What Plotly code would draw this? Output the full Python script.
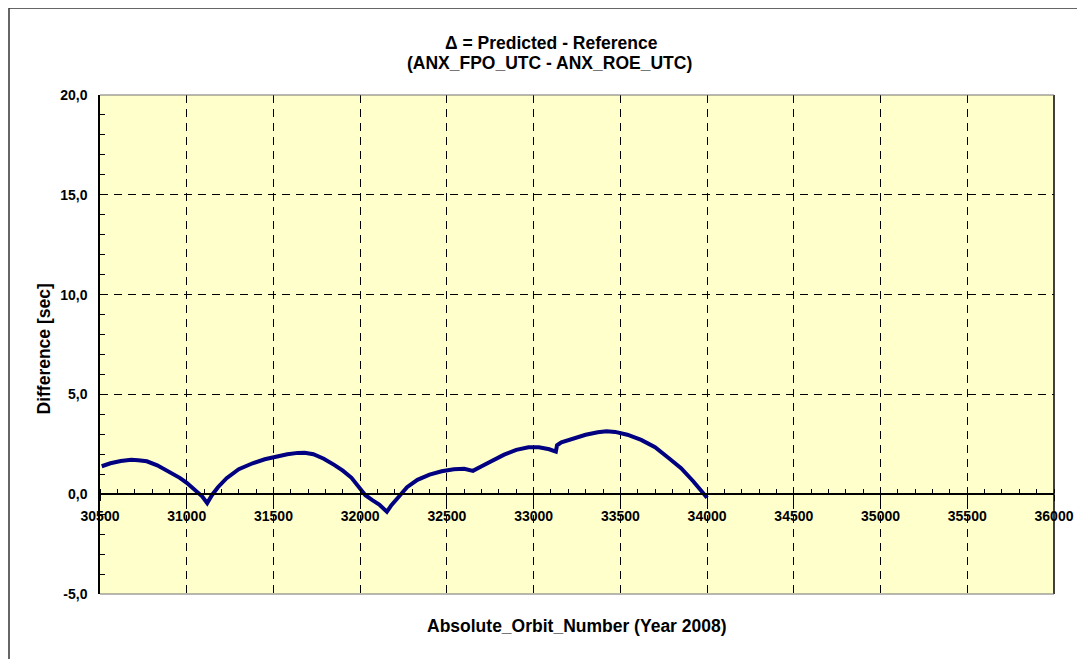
import plotly.graph_objects as go

# ---- data ----
orbit = [30510, 30560, 30620, 30680, 30720, 30770, 30830, 30900, 30960, 31000,
         31050, 31090, 31118, 31145, 31180, 31230, 31300, 31380, 31450, 31520,
         31580, 31640, 31680, 31730, 31790, 31850, 31900, 31950, 31990, 32030,
         32070, 32110, 32154, 32180, 32220, 32270, 32330, 32400, 32470, 32540,
         32600, 32650, 32700, 32760, 32830, 32900, 32970, 33030, 33090, 33128,
         33135, 33160, 33220, 33300, 33370, 33420, 33470, 33540, 33620, 33700,
         33780, 33850, 33920, 33970, 34000]
difference = [1.40, 1.55, 1.66, 1.72, 1.70, 1.65, 1.45, 1.12, 0.82, 0.57,
              0.22, -0.12, -0.45, -0.05, 0.35, 0.80, 1.25, 1.55, 1.75, 1.90,
              2.00, 2.07, 2.08, 2.00, 1.78, 1.47, 1.18, 0.82, 0.40, -0.05,
              -0.30, -0.52, -0.88, -0.55, -0.15, 0.35, 0.72, 0.98, 1.15, 1.25,
              1.27, 1.17, 1.40, 1.68, 1.98, 2.22, 2.35, 2.35, 2.25, 2.13,
              2.45, 2.60, 2.78, 2.98, 3.10, 3.15, 3.12, 2.98, 2.72, 2.35,
              1.80, 1.30, 0.65, 0.15, -0.18]

x_tickvals = [30500, 31000, 31500, 32000, 32500, 33000, 33500, 34000, 34500, 35000, 35500, 36000]
x_ticktext = ["30500", "31000", "31500", "32000", "32500", "33000", "33500",
              "34000", "34500", "35000", "35500", "36000"]
y_tickvals = [-5, 0, 5, 10, 15, 20]
y_ticktext = ["-5,0", "0,0", "5,0", "10,0", "15,0", "20,0"]

title_line1 = "\u0394 = Predicted - Reference"
title_line2 = "(ANX_FPO_UTC - ANX_ROE_UTC)"
x_title = "Absolute_Orbit_Number (Year 2008)"
y_title = "Difference [sec]"

FONT = "Arial, Liberation Sans, sans-serif"
OFF = 8                      # page body margin of the browser
W, H = 1085 - OFF, 659 - OFF
# plot area in window pixels: x 100..1054, y 95..594
L, T = 100 - OFF, 95 - OFF
R, B = W - (1054 - OFF), H - (594 - OFF)
pw, ph = W - L - R, H - T - B


def px_x(p):  # window pixel -> paper x
    return (p - OFF - L) / pw


def px_y(p):  # window pixel -> paper y
    return (H - B - (p - OFF)) / ph


fig = go.Figure()
fig.add_trace(go.Scatter(
    x=orbit, y=difference, mode="lines",
    line=dict(color="#000080", width=4),
    showlegend=False, hoverinfo="skip"))

fig.update_layout(
    width=W, height=H,
    margin=dict(l=L, r=R, t=T, b=B),
    paper_bgcolor="white",
    plot_bgcolor="#FFFFCC",
    font=dict(family=FONT, color="black", size=14),
    showlegend=False,
)

tick_font = dict(family=FONT, size=14, color="black", weight="bold")

fig.update_xaxes(
    range=[30500, 36000],
    anchor="free", position=0.2,
    tickmode="array", tickvals=x_tickvals, ticktext=x_ticktext,
    tickfont=tick_font,
    showline=True, linecolor="black", linewidth=1.5,
    ticks="outside", ticklen=6, tickcolor="black", tickwidth=1,
    minor=dict(tickmode="linear", tick0=30500, dtick=100, ticks="inside",
               ticklen=4, tickcolor="black", showgrid=False),
    showgrid=True, gridcolor="black", gridwidth=1, griddash="8px,6px",
    zeroline=False,
    ticklabelstandoff=3,
)

fig.update_yaxes(
    range=[-5, 20],
    tickmode="array", tickvals=y_tickvals, ticktext=y_ticktext,
    tickfont=tick_font,
    showline=True, linecolor="black", linewidth=1.5,
    ticks="inside", ticklen=5, tickcolor="black",
    minor=dict(tickmode="linear", tick0=-5, dtick=1, ticks="inside",
               ticklen=5, tickcolor="black", showgrid=False),
    showgrid=True, gridcolor="black", gridwidth=1, griddash="8px,6px",
    zeroline=False,
    ticklabelstandoff=8,
)

shapes = [
    # plot area frame
    dict(type="line", xref="paper", yref="paper", x0=1, x1=1, y0=0, y1=1,
         line=dict(color="black", width=1.5)),
    dict(type="line", xref="paper", yref="paper", x0=0, x1=1, y0=1, y1=1,
         line=dict(color="#707070", width=1)),
    dict(type="line", xref="paper", yref="paper", x0=0, x1=1, y0=0, y1=0,
         line=dict(color="#707070", width=1)),
    # outer chart frame (left and top edges visible)
    dict(type="line", xref="paper", yref="paper", x0=px_x(9), x1=px_x(9),
         y0=px_y(700), y1=px_y(8), line=dict(color="#333333", width=1.5)),
    dict(type="line", xref="paper", yref="paper", x0=px_x(9), x1=px_x(1120),
         y0=px_y(8), y1=px_y(8), line=dict(color="#333333", width=1.5)),
]
fig.update_layout(shapes=shapes)

ann_font = dict(family=FONT, size=17.5, color="black", weight="bold")
fig.add_annotation(text=title_line1, xref="paper", yref="paper",
                   x=px_x(551), y=px_y(43), showarrow=False,
                   xanchor="center", yanchor="middle", font=ann_font)
fig.add_annotation(text=title_line2, xref="paper", yref="paper",
                   x=px_x(549), y=px_y(62.5), showarrow=False,
                   xanchor="center", yanchor="middle", font=ann_font)
fig.add_annotation(text=x_title, xref="paper", yref="paper",
                   x=px_x(577), y=px_y(626), showarrow=False,
                   xanchor="center", yanchor="middle", font=ann_font)
fig.add_annotation(text=y_title, xref="paper", yref="paper",
                   x=px_x(43.5), y=px_y(349), showarrow=False, textangle=-90,
                   xanchor="center", yanchor="middle", font=ann_font)

fig.write_html("out.html")
